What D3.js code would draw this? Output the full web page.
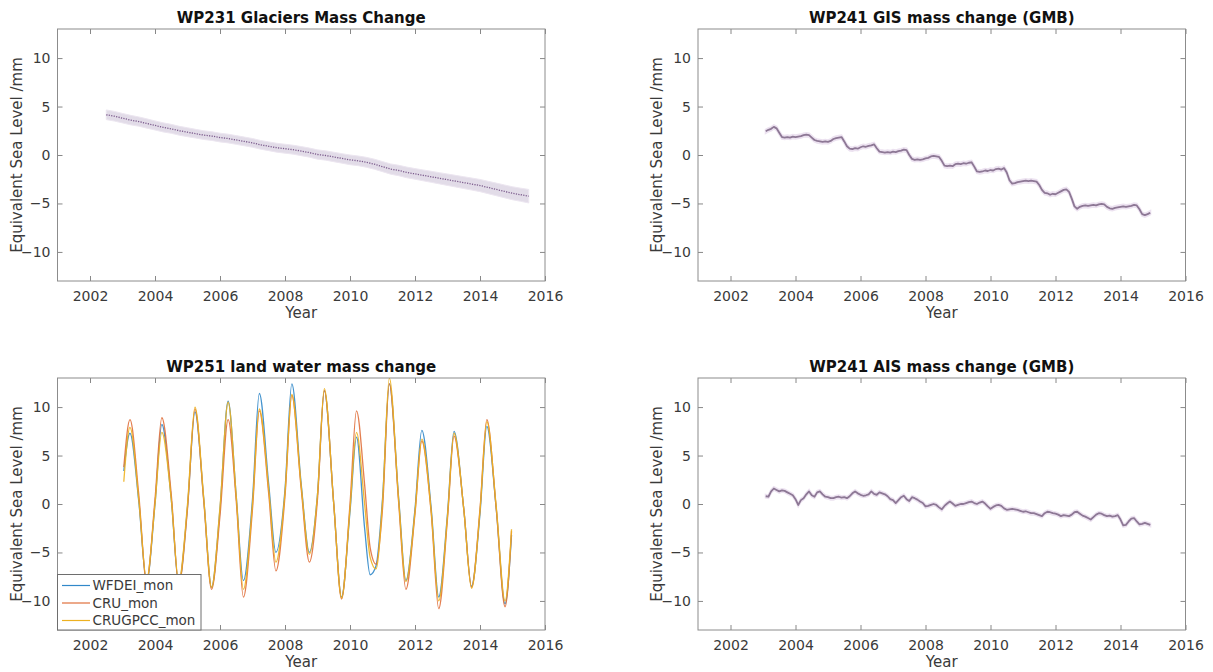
<!DOCTYPE html>
<html>
<head>
<meta charset="utf-8">
<script src="https://cdn.jsdelivr.net/npm/d3@7"></script>
<style>
  body { margin: 0; background: #fff; }
  svg { display: block; }
</style>
</head>
<body>
<svg id="fig" width="1213" height="672"></svg>
<script>
// ---- axis ticks shared by all four panels ----
const yearTicks = [2002, 2004, 2006, 2008, 2010, 2012, 2014, 2016];
const eslTicks = [-10, -5, 0, 5, 10];
const yearDomain = [2001, 2016];
const eslDomain = [-13, 13];

// ---- WP231 glaciers: quarterly values from mid-2002, with 1-sigma band ----
const glacierStart = 2002.5;
const glacierValue = [4.15, 4.0, 3.8, 3.6, 3.45, 3.25, 3.05, 2.85, 2.7, 2.5,
  2.35, 2.2, 2.05, 1.95, 1.8, 1.7, 1.55, 1.4, 1.25, 1.05,
  0.9, 0.75, 0.65, 0.55, 0.4, 0.25, 0.05, -0.05, -0.2, -0.35,
  -0.5, -0.6, -0.75, -0.95, -1.2, -1.45, -1.6, -1.8, -1.95, -2.1,
  -2.25, -2.4, -2.55, -2.7, -2.85, -3.0, -3.15, -3.35, -3.55, -3.75,
  -3.95, -4.1, -4.25];
const glacierErr = [0.50, 0.50, 0.49, 0.49, 0.48, 0.48, 0.47, 0.47, 0.46, 0.46,
  0.46, 0.45, 0.45, 0.45, 0.45, 0.45, 0.45, 0.45, 0.45, 0.45,
  0.45, 0.46, 0.46, 0.46, 0.47, 0.47, 0.48, 0.48, 0.49, 0.49,
  0.50, 0.50, 0.51, 0.52, 0.52, 0.53, 0.54, 0.55, 0.55, 0.56,
  0.57, 0.58, 0.59, 0.60, 0.61, 0.62, 0.63, 0.64, 0.65, 0.66,
  0.67, 0.68, 0.70];

// ---- WP241 GIS (GMB): monthly values, Feb 2003 onwards ----
const gisStart = 2003;
const gisValue = [
  2.45, 2.6, 2.7, 2.9, 2.75, 2.3, 1.85, 1.8, 1.85, 1.8, 1.9,
  1.85, 1.9, 1.95, 2.05, 2.1, 2.05, 1.8, 1.55, 1.45, 1.4, 1.35, 1.4,
  1.35, 1.45, 1.65, 1.75, 1.8, 1.85, 1.4, 0.9, 0.65, 0.6, 0.7, 0.65,
  0.8, 0.9, 0.85, 0.95, 1.0, 1.1, 0.7, 0.35, 0.3, 0.25, 0.3, 0.25,
  0.35, 0.3, 0.4, 0.45, 0.55, 0.5, 0.0, -0.4, -0.5, -0.45, -0.5, -0.45,
  -0.35, -0.3, -0.15, -0.1, -0.15, -0.2, -0.6, -1.1, -1.15, -1.1, -1.15, -0.95,
  -0.9, -0.95, -0.85, -0.9, -0.8, -0.75, -1.2, -1.7, -1.75, -1.7, -1.6, -1.65,
  -1.55, -1.6, -1.45, -1.4, -1.5, -1.35, -1.8, -2.6, -2.95, -2.9, -2.8, -2.75,
  -2.7, -2.65, -2.7, -2.65, -2.7, -2.75, -3.1, -3.6, -3.9, -3.95, -4.1, -4.0,
  -4.05, -3.9, -3.75, -3.6, -3.55, -3.8, -4.5, -5.3, -5.55, -5.35, -5.25, -5.2,
  -5.25, -5.2, -5.15, -5.2, -5.1, -5.05, -5.1, -5.35, -5.5, -5.55, -5.45, -5.4,
  -5.35, -5.3, -5.35, -5.3, -5.25, -5.15, -5.2, -5.6, -6.1, -6.2, -6.1, -5.95];
const gisErr = 0.18;

// ---- WP241 AIS (GMB): monthly values, Feb 2003 onwards ----
const aisStart = 2003;
const aisValue = [
  0.8, 0.75, 1.3, 1.6, 1.45, 1.3, 1.4, 1.35, 1.2, 1.05, 0.9,
  0.5, -0.1, 0.4, 0.6, 1.0, 1.3, 0.9, 0.75, 1.2, 1.3, 1.0, 0.75,
  0.7, 0.6, 0.6, 0.7, 0.75, 0.65, 0.7, 0.6, 0.8, 1.1, 1.3, 1.1,
  0.95, 0.85, 0.9, 1.0, 1.3, 1.05, 0.95, 1.2, 1.1, 1.0, 0.8, 0.5,
  0.4, 0.1, 0.4, 0.7, 0.85, 0.5, 0.3, 0.7, 0.6, 0.45, 0.25, 0.1,
  -0.25, -0.2, -0.1, 0.0, -0.1, -0.35, -0.55, -0.2, 0.05, 0.25, 0.05, -0.2,
  -0.1, 0.0, 0.0, 0.1, 0.2, 0.25, 0.1, 0.0, 0.15, 0.25, 0.05, -0.25,
  -0.5, -0.3, -0.15, -0.1, -0.2, -0.45, -0.6, -0.55, -0.5, -0.55, -0.6, -0.7,
  -0.8, -0.75, -0.85, -0.95, -0.95, -1.05, -1.15, -1.25, -0.95, -0.8, -0.85, -0.95,
  -1.0, -1.1, -1.25, -1.15, -1.2, -1.25, -1.1, -0.85, -0.8, -1.0, -1.2, -1.3,
  -1.45, -1.6, -1.35, -1.1, -0.95, -1.0, -1.15, -1.25, -1.2, -1.3, -1.25, -1.15,
  -1.6, -2.2, -2.15, -1.8, -1.5, -1.45, -1.8, -2.1, -2.05, -1.95, -2.05, -2.15];
const aisErr = 0.15;

// ---- WP251 land water storage, three forcing datasets ----
const landTime = [2003.04, 2003.23, 2003.5, 2003.74, 2004.0, 2004.21, 2004.5, 2004.73,
  2005.0, 2005.23, 2005.5, 2005.74, 2006.0, 2006.25, 2006.5, 2006.72,
  2007.0, 2007.21, 2007.5, 2007.72, 2008.0, 2008.21, 2008.5, 2008.75,
  2009.0, 2009.21, 2009.5, 2009.74, 2010.0, 2010.2, 2010.45, 2010.62, 2010.8,
  2011.0, 2011.21, 2011.5, 2011.72, 2012.0, 2012.21, 2012.5, 2012.73,
  2013.0, 2013.2, 2013.5, 2013.74, 2014.0, 2014.21, 2014.5, 2014.77, 2014.97];
const wfdeiMon = [3.4, 7.3, 0.3, -8.0, 0.0, 8.2, 0.5, -8.2,
  -0.3, 9.5, 0.5, -8.6, -0.5, 10.6, 0.8, -7.9,
  0.5, 11.4, 2.0, -5.0, 1.5, 12.4, 2.0, -5.0,
  1.0, 11.7, 0.0, -9.6, -0.8, 6.9, -2.5, -7.3, -6.4,
  0.5, 12.4, 0.5, -7.9, -0.5, 7.6, -0.5, -9.6,
  -1.0, 7.5, -0.5, -8.5, -1.0, 8.0, -0.5, -10.3, -3.2];
const cruMon = [3.8, 8.7, 1.0, -8.0, 0.5, 8.9, 1.0, -8.3,
  -0.5, 9.8, 0.3, -8.8, -1.2, 8.7, 0.3, -9.6,
  -0.5, 9.6, 1.0, -6.9, 0.8, 11.2, 1.5, -6.0,
  0.5, 11.7, 0.0, -9.8, 0.0, 9.6, 2.0, -4.5, -6.2,
  -0.5, 12.4, 0.0, -8.8, -1.0, 6.5, -1.0, -10.8,
  -1.5, 7.0, -0.5, -8.6, -0.5, 8.7, -0.5, -10.6, -2.8];
const crugpccMon = [2.3, 7.9, 0.5, -7.8, 0.0, 7.4, 0.5, -8.0,
  0.0, 10.0, 0.6, -8.6, -0.3, 10.5, 0.8, -8.8,
  0.0, 9.8, 1.5, -6.0, 1.2, 11.3, 1.8, -5.2,
  1.0, 11.9, 0.0, -9.7, -0.5, 7.4, 0.0, -5.5, -6.7,
  0.2, 13.0, 0.3, -8.0, -0.8, 6.7, -0.8, -10.0,
  -1.2, 7.3, -0.5, -8.7, -0.7, 8.5, -0.3, -10.0, -2.6];
const landNames = ["WFDEI_mon", "CRU_mon", "CRUGPCC_mon"];
const landColors = ["#3188c9", "#e0703c", "#edb120"];

const titles = [
  "WP231 Glaciers Mass Change",
  "WP241 GIS mass change (GMB)",
  "WP251 land water mass change",
  "WP241 AIS mass change (GMB)"
];

// ---- layout ----
const FONT = "'DejaVu Sans', sans-serif";
const boxes = [
  { x0: 57.5, x1: 545,    y0: 29,  y1: 281, ylab: 17 },
  { x0: 698,  x1: 1185.5, y0: 29,  y1: 281, ylab: 657 },
  { x0: 57.5, x1: 545,    y0: 378, y1: 630, ylab: 17 },
  { x0: 698,  x1: 1185.5, y0: 378, y1: 630, ylab: 657 }
];

const fig = d3.select("#fig");
const defs = fig.append("defs");

function makePanel(i) {
  const b = boxes[i];
  const x = d3.scaleLinear().domain(yearDomain).range([b.x0, b.x1]);
  const y = d3.scaleLinear().domain(eslDomain).range([b.y1, b.y0]);
  defs.append("clipPath").attr("id", "clip" + i)
    .append("rect").attr("x", b.x0).attr("y", b.y0)
    .attr("width", b.x1 - b.x0).attr("height", b.y1 - b.y0);
  const g = fig.append("g");
  const plot = g.append("g").attr("clip-path", `url(#clip${i})`);
  return { b, x, y, g, plot };
}

function drawFrame(p, title) {
  const { b, x, y, g } = p;
  const tickColor = "#7a7a7a";
  const style = sel => {
    sel.select(".domain").remove();
    sel.selectAll(".tick line").attr("stroke", tickColor).attr("stroke-width", 0.9);
    sel.selectAll(".tick text").attr("fill", "#3a3a3a")
      .attr("font-family", FONT).attr("font-size", 14);
  };
  g.append("g").attr("transform", `translate(0,${b.y1})`)
    .call(d3.axisBottom(x).tickValues(yearTicks).tickFormat(d3.format("d"))
      .tickSizeInner(-5).tickSizeOuter(0).tickPadding(10)).call(style);
  g.append("g").attr("transform", `translate(0,${b.y0})`)
    .call(d3.axisTop(x).tickValues(yearTicks).tickFormat("")
      .tickSizeInner(-5).tickSizeOuter(0)).call(style);
  g.append("g").attr("transform", `translate(${b.x0},0)`)
    .call(d3.axisLeft(y).tickValues(eslTicks).tickFormat(d3.format("d"))
      .tickSizeInner(-5).tickSizeOuter(0).tickPadding(7)).call(style);
  g.append("g").attr("transform", `translate(${b.x1},0)`)
    .call(d3.axisRight(y).tickValues(eslTicks).tickFormat("")
      .tickSizeInner(-5).tickSizeOuter(0)).call(style);

  g.append("rect").attr("x", b.x0).attr("y", b.y0)
    .attr("width", b.x1 - b.x0).attr("height", b.y1 - b.y0)
    .attr("fill", "none").attr("stroke", "#8c8c8c").attr("stroke-width", 1);

  g.append("text").attr("x", (b.x0 + b.x1) / 2).attr("y", b.y0 - 6)
    .attr("text-anchor", "middle").attr("font-family", FONT)
    .attr("font-size", 15).attr("font-weight", "bold").attr("fill", "#111")
    .text(title);
  g.append("text").attr("x", (b.x0 + b.x1) / 2).attr("y", b.y1 + 37)
    .attr("text-anchor", "middle").attr("font-family", FONT)
    .attr("font-size", 15).attr("fill", "#3a3a3a").text("Year");
  g.append("text")
    .attr("transform", `translate(${b.ylab},${(b.y0 + b.y1) / 2}) rotate(-90)`)
    .attr("text-anchor", "middle").attr("dy", "0.35em").attr("font-family", FONT)
    .attr("font-size", 15).attr("fill", "#3a3a3a").text("Equivalent Sea Level /mm");
}

function monthly(start, values) {
  return values.map((v, i) => ({ t: start + (i + 1) / 12, v }));
}

// ---- panel 1: glaciers ----
{
  const p = makePanel(0);
  const data = glacierValue.map((v, i) => ({ t: glacierStart + i / 4, v, e: glacierErr[i] }));
  p.plot.append("path").datum(data)
    .attr("d", d3.area().x(d => p.x(d.t)).y0(d => p.y(d.v - d.e)).y1(d => p.y(d.v + d.e)))
    .attr("fill", "#e2dce8").attr("stroke", "#ece6f0").attr("stroke-width", 1);
  p.plot.append("path").datum(data)
    .attr("d", d3.line().x(d => p.x(d.t)).y(d => p.y(d.v)))
    .attr("fill", "none").attr("stroke", "#7b5a8c").attr("stroke-width", 1.3)
    .attr("stroke-dasharray", "1.2,1.3");
  drawFrame(p, titles[0]);
}

// ---- panels 2 and 4: ice sheets ----
function iceSheet(idx, start, values, err) {
  const p = makePanel(idx);
  const data = monthly(start, values);
  p.plot.append("path").datum(data)
    .attr("d", d3.area().x(d => p.x(d.t)).y0(d => p.y(d.v - err)).y1(d => p.y(d.v + err)))
    .attr("fill", "#e4d6ea").attr("stroke", "#ece2f0").attr("stroke-width", 2);
  p.plot.append("path").datum(data)
    .attr("d", d3.line().x(d => p.x(d.t)).y(d => p.y(d.v)))
    .attr("fill", "none").attr("stroke", "#8d7895").attr("stroke-width", 1.8)
    .attr("stroke-linejoin", "round");
  drawFrame(p, titles[idx]);
}
iceSheet(1, gisStart, gisValue, gisErr);
iceSheet(3, aisStart, aisValue, aisErr);

// ---- panel 3: land water ----
{
  const p = makePanel(2);
  const series = [wfdeiMon, cruMon, crugpccMon];
  const line = d3.line().x(d => p.x(d.t)).y(d => p.y(d.v)).curve(d3.curveMonotoneX);
  series.forEach((vals, k) => {
    const data = vals.map((v, i) => ({ t: landTime[i], v }));
    p.plot.append("path").datum(data).attr("d", line)
      .attr("fill", "none").attr("stroke", landColors[k]).attr("stroke-width", 1.3)
      .attr("stroke-opacity", 0.9);
  });
  drawFrame(p, titles[2]);

  // legend in the lower-left corner
  const b = p.b;
  const lg = p.g.append("g");
  const lx0 = b.x0, ly0 = 574.5, lx1 = 201, ly1 = b.y1;
  lg.append("rect").attr("x", lx0).attr("y", ly0)
    .attr("width", lx1 - lx0).attr("height", ly1 - ly0)
    .attr("fill", "#fff").attr("stroke", "#6e6e6e").attr("stroke-width", 1);
  landNames.forEach((name, k) => {
    const yy = 585.5 + k * 17.5;
    lg.append("line").attr("x1", 62).attr("x2", 90).attr("y1", yy).attr("y2", yy)
      .attr("stroke", landColors[k]).attr("stroke-width", 1.2);
    lg.append("text").attr("x", 92.5).attr("y", yy).attr("dy", "0.35em")
      .attr("font-family", FONT).attr("font-size", 13.5).attr("fill", "#3a3a3a")
      .text(name);
  });
}
</script>
</body>
</html>
